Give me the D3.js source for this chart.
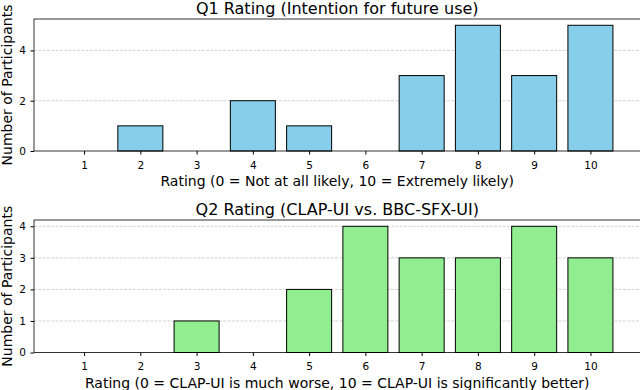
<!DOCTYPE html>
<html>
<head>
<meta charset="utf-8">
<script src="https://cdn.jsdelivr.net/npm/d3@7"></script>
<style>
  body { margin: 0; background: #fff; }
  text { font-family: "DejaVu Sans", sans-serif; fill: #000; }
</style>
</head>
<body>
<script>
var width = 640;
var height = 390;

// ratings 1..10
var ratings = [1, 2, 3, 4, 5, 6, 7, 8, 9, 10];
var q1_counts = [0, 1, 0, 2, 1, 0, 3, 5, 3, 5];
var q2_counts = [0, 0, 1, 0, 2, 4, 3, 3, 4, 3];
var q1_yticks = [0, 2, 4];
var q2_yticks = [0, 1, 2, 3, 4];
var q1_title = "Q1 Rating (Intention for future use)";
var q2_title = "Q2 Rating (CLAP-UI vs. BBC-SFX-UI)";
var q1_xlabel = "Rating (0 = Not at all likely, 10 = Extremely likely)";
var q2_xlabel = "Rating (0 = CLAP-UI is much worse, 10 = CLAP-UI is significantly better)";
var ylabel = "Number of Participants";

var svg = d3.select('body').append('svg').attr('width', width).attr('height', height);

var panels = [
  { counts: q1_counts, yticks: q1_yticks, title: q1_title, xlabel: q1_xlabel, color: "#87CEEB", top: 19, bottom: 151 },
  { counts: q2_counts, yticks: q2_yticks, title: q2_title, xlabel: q2_xlabel, color: "#90EE90", top: 220, bottom: 352.5 }
];

var left = 34, right = 640.5;

panels.forEach(function (p) {
  var ymax = d3.max(p.counts) * 1.05;
  var x = d3.scaleLinear().domain([0.11, 10.89]).range([left, right]);
  var y = d3.scaleLinear().domain([0, ymax]).range([p.bottom, p.top]);
  var g = svg.append("g");

  // grid
  g.append("g").selectAll("line")
    .data(p.yticks.filter(function (t) { return t > 0; }))
    .enter().append("line")
    .attr("x1", left).attr("x2", right)
    .attr("y1", function (d) { return y(d); })
    .attr("y2", function (d) { return y(d); })
    .attr("stroke", "#b0b0b0")
    .attr("stroke-opacity", 0.7)
    .attr("stroke-width", 0.8)
    .attr("stroke-dasharray", "3,1.3");

  // bars
  g.append("g").selectAll("rect")
    .data(ratings)
    .enter().append("rect")
    .attr("x", function (d) { return x(d - 0.4); })
    .attr("width", function (d) { return x(d + 0.4) - x(d - 0.4); })
    .attr("y", function (d, i) { return y(p.counts[i]); })
    .attr("height", function (d, i) { return y(0) - y(p.counts[i]); })
    .attr("fill", p.color)
    .attr("stroke", function (d, i) { return p.counts[i] > 0 ? "#000" : "none"; })
    .attr("stroke-width", 1);

  // axes
  var xAxis = d3.axisBottom(x).tickValues(ratings).tickSize(3.5).tickPadding(7);
  var gx = g.append("g").attr("transform", "translate(0," + p.bottom + ")").call(xAxis);
  gx.select(".domain").remove();
  gx.selectAll(".tick line").attr("stroke", "#000");
  gx.selectAll("text").style("font-size", "10.5px").style("font-family", "DejaVu Sans");

  var yAxis = d3.axisLeft(y).tickValues(p.yticks).tickFormat(d3.format("d")).tickSize(3.5).tickPadding(4.5);
  var gy = g.append("g").attr("transform", "translate(" + left + ",0)").call(yAxis);
  gy.select(".domain").remove();
  gy.selectAll("text").style("font-size", "10.5px").style("font-family", "DejaVu Sans");

  // spines
  g.append("rect")
    .attr("x", left).attr("y", p.top)
    .attr("width", right - left).attr("height", p.bottom - p.top)
    .attr("fill", "none").attr("stroke", "#000").attr("stroke-width", 0.8);

  // title and labels
  g.append("text")
    .attr("x", (left + right) / 2).attr("y", p.top - 5)
    .attr("text-anchor", "middle")
    .style("font-size", "16px")
    .text(p.title);

  g.append("text")
    .attr("x", (left + right) / 2).attr("y", p.bottom + 35)
    .attr("text-anchor", "middle")
    .style("font-size", "14px")
    .text(p.xlabel);

  g.append("text")
    .attr("transform", "translate(12," + (p.top + p.bottom) / 2 + ") rotate(-90)")
    .attr("text-anchor", "middle")
    .style("font-size", "14px")
    .text(ylabel);
});
</script>
</body>
</html>
